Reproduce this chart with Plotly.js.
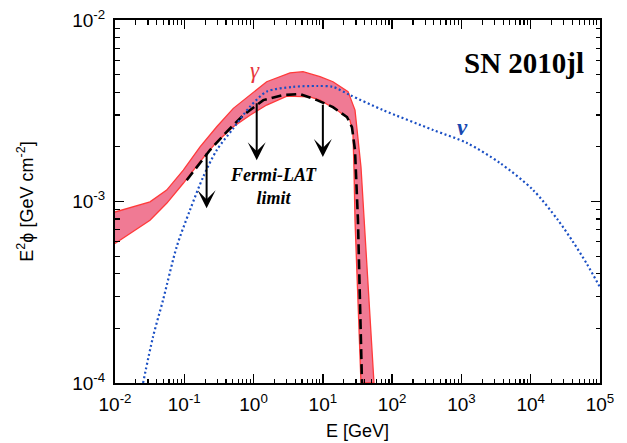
<!DOCTYPE html>
<html><head><meta charset="utf-8">
<script src="https://cdn.plot.ly/plotly-3.0.1.min.js"></script>
<style>html,body{margin:0;padding:0;background:#fff}</style>
</head><body><div id="chart" style="width:627px;height:443px"></div>
<script>
// Neutrino flux (dotted blue)
const nuE = [0.0254, 0.0353, 0.0493, 0.0776, 0.1208, 0.188, 0.294, 0.510, 0.888, 1.545, 3.70, 8.23, 14.0, 24.6, 73.8, 389, 1203, 3600, 10780, 24800, 40700, 64900, 100000];
const nuF = [1.0e-4, 1.79e-4, 2.86e-4, 5.62e-4, 8.97e-4, 1.37e-3, 1.92e-3, 2.53e-3, 3.33e-3, 4.03e-3, 4.28e-3, 4.33e-3, 4.28e-3, 3.86e-3, 3.19e-3, 2.48e-3, 2.10e-3, 1.63e-3, 1.16e-3, 7.89e-4, 6.0e-4, 4.52e-4, 3.37e-4];
// Gamma band upper / lower edges
const gUpE = [0.01, 0.01644, 0.0320, 0.0557, 0.0968, 0.1687, 0.294, 0.510, 0.888, 1.545, 3.36, 5.17, 9.10, 14.0, 23.1, 29.1, 35.5, 39.3, 46.4, 54.7];
const gUpF = [8.75e-4, 9.23e-4, 9.95e-4, 1.156e-3, 1.49e-3, 2.00e-3, 2.58e-3, 3.26e-3, 3.86e-3, 4.57e-3, 5.12e-3, 5.19e-3, 4.87e-3, 4.57e-3, 4.03e-3, 3.19e-3, 1.55e-3, 7.89e-4, 2.86e-4, 1.0e-4];
const gLoE = [0.01, 0.01644, 0.0320, 0.0557, 0.0968, 0.1687, 0.294, 0.510, 0.888, 1.545, 3.03, 6.52, 9.10, 16.0, 24.6, 27.2, 28.1, 29.1, 32.1, 35.5];
const gLoF = [5.87e-4, 6.67e-4, 7.89e-4, 9.77e-4, 1.26e-3, 1.66e-3, 2.13e-3, 2.58e-3, 2.99e-3, 3.40e-3, 3.81e-3, 3.77e-3, 3.62e-3, 3.19e-3, 2.81e-3, 2.38e-3, 1.55e-3, 7.89e-4, 2.86e-4, 1.0e-4];
// Dashed black curve
const dashE = [0.1084, 0.235, 0.409, 0.711, 1.38, 2.66, 4.68, 8.23, 14.0, 22.3, 26.3, 29.1, 32.1, 36.7];
const dashF = [1.31e-3, 1.92e-3, 2.42e-3, 2.99e-3, 3.62e-3, 3.86e-3, 3.91e-3, 3.62e-3, 3.31e-3, 2.92e-3, 2.57e-3, 1.92e-3, 7.89e-4, 1.0e-4];
// Fermi-LAT upper limits (arrows)
const limE = [0.21, 1.11, 10.0];
const limTop = [1.88e-3, 3.55e-3, 3.48e-3];
const limTip = [9.17e-4, 1.69e-3, 1.76e-3];
// Axis ticks
const xTickVals = [1e-2, 1e-1, 1e0, 1e1, 1e2, 1e3, 1e4, 1e5];
const xTickText = ['10<sup>-2</sup>','10<sup>-1</sup>','10<sup>0</sup>','10<sup>1</sup>','10<sup>2</sup>','10<sup>3</sup>','10<sup>4</sup>','10<sup>5</sup>'];
const yTickVals = [1e-4, 1e-3, 1e-2];
const yTickText = ['10<sup>-4</sup>','10<sup>-3</sup>','10<sup>-2</sup>'];

function minorVals(lo, hi) {
  const v = [];
  for (let d = lo; d < hi; d++) for (let k = 2; k <= 9; k++) v.push(k * Math.pow(10, d));
  return v;
}

const bandX = gUpE.concat(gLoE.slice().reverse());
const bandY = gUpF.concat(gLoF.slice().reverse());

const traces = [
  {x: bandX, y: bandY, mode: 'lines', fill: 'toself', fillcolor: 'rgb(240,122,148)',
   line: {color: '#ff3a3a', width: 1.3}, hoverinfo: 'skip'},
  {x: dashE, y: dashF, mode: 'lines', line: {color: '#000', width: 2.6, dash: '10px,5px'}},
  {x: nuE, y: nuF, mode: 'lines', line: {color: '#1a4fc4', width: 2.2, dash: '2px,2.6px', shape: 'spline', smoothing: 0.8}},
  // empty trace so the mirrored tick axes (top / right) exist
  {x: [], y: [], xaxis: 'x2', yaxis: 'y2', mode: 'lines', showlegend: false}
];

const serif = 'Liberation Serif, Times New Roman, serif';
const annotations = limE.map((e, i) => ({
  x: Math.log10(e), y: Math.log10(limTip[i]), ax: Math.log10(e), ay: Math.log10(limTop[i]),
  xref: 'x', yref: 'y', axref: 'x', ayref: 'y', text: '', showarrow: true,
  arrowhead: 3, arrowsize: 1.5, arrowwidth: 2, arrowcolor: '#000', standoff: 0
}));
annotations.push(
  {x: Math.log10(1.05), y: Math.log10(5.3e-3), xref: 'x', yref: 'y', text: 'γ', showarrow: false,
   font: {family: serif, size: 23, color: '#e8353b', style: 'italic'}},
  {x: Math.log10(1052), y: Math.log10(2.57e-3), xref: 'x', yref: 'y', text: 'ν', showarrow: false,
   font: {family: serif, size: 23, color: '#1848b0', style: 'italic', weight: 'bold'}},
  {x: 0.971, y: 0.8815, xref: 'paper', yref: 'paper', xanchor: 'right', yanchor: 'middle',
   text: 'SN 2010jl', showarrow: false, font: {family: serif, size: 29, color: '#000', weight: 'bold'}},
  {x: 0.326, y: 0.540, xref: 'paper', yref: 'paper', xanchor: 'center', yanchor: 'middle',
   text: 'Fermi-LAT<br>limit', showarrow: false,
   font: {family: serif, size: 18, color: '#000', weight: 'bold', style: 'italic'}}
);

const sans = 'Liberation Sans, Arial, sans-serif';
const axisCommon = {
  type: 'log', showgrid: false, zeroline: false, showline: true, linecolor: '#000', linewidth: 2,
  mirror: true, ticks: 'inside', ticklen: 9, tickwidth: 1.5, tickcolor: '#000',
  tickmode: 'array', tickfont: {family: sans, size: 19, color: '#000'}
};
const minorX = {tickmode: 'array', tickvals: minorVals(-2, 5), ticks: 'inside', ticklen: 4.5, tickwidth: 1.2, tickcolor: '#000'};
const minorY = {tickmode: 'array', tickvals: minorVals(-4, -2), ticks: 'inside', ticklen: 4.5, tickwidth: 1.2, tickcolor: '#000'};

const layout = {
  width: 627, height: 443, margin: {l: 115, r: 27, t: 20, b: 60},
  paper_bgcolor: '#fff', plot_bgcolor: '#fff', showlegend: false,
  xaxis: Object.assign({}, axisCommon, {
    range: [-2, 5], tickvals: xTickVals, ticktext: xTickText, minor: minorX, ticklabelstandoff: 3,
    title: {text: 'E [GeV]', font: {family: sans, size: 18, color: '#000'}, standoff: 11}
  }),
  yaxis: Object.assign({}, axisCommon, {
    range: [-4, -2], tickvals: yTickVals, ticktext: yTickText, minor: minorY, ticklabelstandoff: 4,
    title: {text: 'E<sup>2</sup>ϕ [GeV cm<sup>-2</sup>]', font: {family: sans, size: 18, color: '#000'}, standoff: 34}
  }),
  xaxis2: Object.assign({}, axisCommon, {
    overlaying: 'x', side: 'top', anchor: 'y2', showticklabels: false, showline: false,
    range: [-2, 5], tickvals: xTickVals, ticktext: xTickText, minor: minorX
  }),
  yaxis2: Object.assign({}, axisCommon, {
    overlaying: 'y', side: 'right', anchor: 'x2', showticklabels: false, showline: false,
    range: [-4, -2], tickvals: yTickVals, ticktext: yTickText, minor: minorY
  }),
  annotations: annotations
};

Plotly.newPlot('chart', traces, layout, {staticPlot: true, displayModeBar: false});
</script>
</body></html>
